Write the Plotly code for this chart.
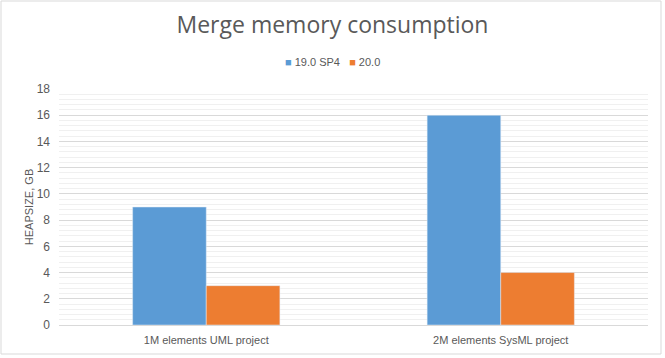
import plotly.graph_objects as go

categories = ["1M elements UML project", "2M elements SysML project"]
series_names = ["19.0 SP4", "20.0"]
values_sp4 = [9, 16]
values_20 = [3, 4]
colors = ["#5B9BD5", "#ED7D31"]

W, H = 665, 358
ml, mr, mt, mb = 59, 17, 89, 33

fig = go.Figure()
fig.add_trace(go.Bar(x=categories, y=values_sp4, name=series_names[0], marker_color=colors[0]))
fig.add_trace(go.Bar(x=categories, y=values_20, name=series_names[1], marker_color=colors[1]))

pw = W - ml - mr
ph = H - mt - mb
fig.add_shape(type="rect", xref="paper", yref="paper",
              x0=(1 - ml) / pw, x1=(661 - ml) / pw,
              y0=(H - mb - 354) / ph, y1=(H - mb - 1) / ph,
              line=dict(color="#D9D9D9", width=1), fillcolor="rgba(0,0,0,0)", layer="below")

legend_text = "&nbsp;&nbsp;&nbsp;".join(
    f"<span style='color:{c}'>■</span> {n}" for n, c in zip(series_names, colors))
fig.add_annotation(text=legend_text, xref="paper", yref="paper",
                   x=(332 - ml) / pw, y=(H - mb - 62) / ph, xanchor="center", yanchor="middle",
                   showarrow=False, font=dict(size=11, color="#595959"))

fig.update_layout(
    width=W, height=H,
    margin=dict(l=ml, r=mr, t=mt, b=mb, autoexpand=False),
    paper_bgcolor="white", plot_bgcolor="white",
    font=dict(family="Liberation Sans, Arial, sans-serif", color="#595959", size=11),
    title=dict(text="Merge memory consumption", x=0.5, xanchor="center", y=0.93, yanchor="middle",
               font=dict(size=23, color="#595959", family="Open Sans, sans-serif")),
    barmode="group", bargap=0.5, bargroupgap=0,
    showlegend=False,
    xaxis=dict(showline=True, linecolor="#D9D9D9", linewidth=1, ticks="", ticklabelstandoff=5,
               tickfont=dict(size=11, color="#595959")),
    yaxis=dict(range=[0, 18], dtick=2, showgrid=True, gridcolor="#D9D9D9", gridwidth=1,
               zeroline=False, ticks="", ticklabelstandoff=8, tickfont=dict(size=12, color="#595959"),
               title=dict(text="HEAPSIZE, GB", font=dict(size=11, color="#595959"), standoff=0),
               minor=dict(dtick=0.4, showgrid=True, gridcolor="#F0F0F0", gridwidth=1)),
)

fig.write_html("out.html", config={"displayModeBar": False},
               post_script="document.body.style.margin='0';document.body.style.overflow='hidden';")
